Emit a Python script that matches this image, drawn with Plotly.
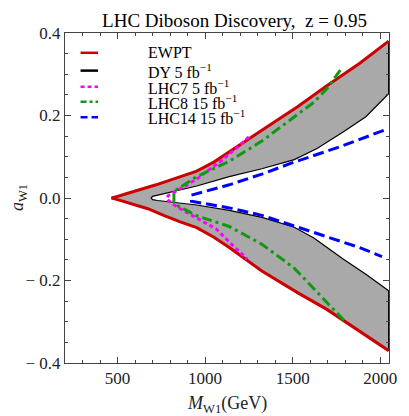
"""
LHC 다이보손 발견 영역 차트
EWPT / DY / LHC7 / LHC8 / LHC14 경계
"""

import plotly.graph_objects as go

# EWPT 경계 (빨강) - 위/아래 가지
ewpt_x = [466, 500, 540, 580, 630, 673, 720, 767, 858, 952, 1050, 1138, 1324, 1530, 1695, 1881, 2048]
ewpt_upper = [0.0, 0.004, 0.009, 0.014, 0.020, 0.026, 0.032, 0.038, 0.051, 0.065, 0.087, 0.111, 0.164, 0.222, 0.272, 0.326, 0.380]
ewpt_lower = [0.0, -0.004, -0.009, -0.014, -0.020, -0.026, -0.034, -0.043, -0.058, -0.072, -0.095, -0.120, -0.177, -0.230, -0.270, -0.322, -0.370]

# DY 5 fb^-1 안쪽 경계 (검정)
dy_upper_x = [692, 700, 729, 822, 952, 1138, 1324, 1509, 1639, 1788, 1918, 2048]
dy_upper = [0.0, 0.004, 0.008, 0.017, 0.029, 0.052, 0.071, 0.093, 0.120, 0.160, 0.197, 0.253]
dy_lower_x = [692, 700, 729, 822, 952, 1138, 1324, 1509, 1621, 1788, 1918, 2048]
dy_lower = [0.0, -0.004, -0.006, -0.011, -0.017, -0.030, -0.047, -0.071, -0.097, -0.148, -0.185, -0.225]

# LHC7 5 fb^-1 (마젠타 점선)
lhc7_upper_x = [780, 790, 841, 952, 1082, 1193, 1250]
lhc7_upper = [0.0, 0.006, 0.018, 0.046, 0.087, 0.126, 0.148]
lhc7_lower_x = [780, 790, 841, 952, 1063, 1156, 1240]
lhc7_lower = [0.0, -0.006, -0.022, -0.049, -0.075, -0.114, -0.148]

# LHC8 15 fb^-1 (초록 일점쇄선)
lhc8_upper_x = [822, 952, 1138, 1324, 1509, 1621, 1695, 1750, 1772]
lhc8_upper = [0.016, 0.052, 0.089, 0.138, 0.196, 0.232, 0.265, 0.297, 0.310]
lhc8_lower_x = [822, 952, 1138, 1324, 1509, 1621, 1695, 1805]
lhc8_lower = [-0.014, -0.043, -0.069, -0.112, -0.170, -0.220, -0.254, -0.302]

# LHC14 15 fb^-1 (파랑 파선)
lhc14_upper_x = [922, 952, 1138, 1324, 1509, 1769, 2020]
lhc14_upper = [0.007, 0.010, 0.032, 0.058, 0.087, 0.124, 0.164]
lhc14_lower_x = [922, 952, 1138, 1324, 1509, 1695, 1881, 2010]
lhc14_lower = [-0.008, -0.010, -0.024, -0.042, -0.068, -0.095, -0.120, -0.142]

legend_labels = ["EWPT", "DY 5 fb<sup>−1</sup>", "LHC7 5 fb<sup>−1</sup>",
                 "LHC8 15 fb<sup>−1</sup>", "LHC14 15 fb<sup>−1</sup>"]
x_tick_vals = [500, 1000, 1500, 2000]
y_tick_vals = [-0.4, -0.2, 0.0, 0.2, 0.4]
y_tick_text = ["− 0.4", "− 0.2", "0.0", "0.2", "0.4"]

SERIF = "Liberation Serif, Times New Roman, serif"


def branch_path(ux, uy, lx, ly):
    """위 가지를 거꾸로 + 아래 가지 이어서 한 경로로"""
    return ux[::-1] + lx, uy[::-1] + ly


def create_discovery_chart():
    fig = go.Figure()

    # 회색 영역: EWPT 바깥 경계와 DY 안쪽 경계 사이
    poly_x = ewpt_x + dy_upper_x[::-1] + dy_lower_x + ewpt_x[::-1]
    poly_y = ewpt_upper + dy_upper[::-1] + dy_lower + ewpt_lower[::-1]
    fig.add_trace(go.Scatter(
        x=poly_x, y=poly_y, mode="lines", fill="toself",
        fillcolor="#a9a9a9", line=dict(color="black", width=1.2),
        hoverinfo="skip"
    ))

    # EWPT 빨강 선
    red_x, red_y = branch_path(ewpt_x, ewpt_upper, ewpt_x, ewpt_lower)
    fig.add_trace(go.Scatter(x=red_x, y=red_y, mode="lines",
                             line=dict(color="#cc0000", width=3)))

    # LHC7 / LHC8 / LHC14
    styles = [
        (lhc7_upper_x, lhc7_upper, lhc7_lower_x, lhc7_lower, "#ff00ff", "4px,3px"),
        (lhc8_upper_x, lhc8_upper, lhc8_lower_x, lhc8_lower, "#119911", "10px,4px,3px,4px"),
        (lhc14_upper_x, lhc14_upper, lhc14_lower_x, lhc14_lower, "#0000ff", "11px,5px"),
    ]
    for ux, uy, lx, ly, color, dash in styles:
        px_, py_ = branch_path(ux, uy, lx, ly)
        fig.add_trace(go.Scatter(x=px_, y=py_, mode="lines",
                                 line=dict(color=color, width=3, dash=dash)))

    # 범례 (수동)
    legend_styles = [("#cc0000", "solid"), ("black", "solid"), ("#ff00ff", "4px,3px"),
                     ("#119911", "6px,3px,3px,3px"), ("#0000ff", "7px,4px")]
    legend_rows = [0.940, 0.886, 0.837, 0.792, 0.745]
    for (color, dash), yrow, label in zip(legend_styles, legend_rows, legend_labels):
        fig.add_shape(type="line", xref="paper", yref="paper",
                      x0=0.048, x1=0.102, y0=yrow, y1=yrow,
                      line=dict(color=color, width=2.5, dash=dash))
        fig.add_annotation(xref="paper", yref="paper", x=0.25, y=yrow,
                           text=label, showarrow=False, xanchor="left", yanchor="middle",
                           font=dict(family=SERIF, size=16, color="black"))

    axis_common = dict(
        showline=True, linecolor="#444444", linewidth=1, mirror="ticks",
        ticks="inside", ticklen=6, tickcolor="#444444",
        showgrid=False, zeroline=False,
        tickfont=dict(family=SERIF, size=17, color="#222222"),
    )
    fig.update_xaxes(range=[200, 2050], tickvals=x_tick_vals,
                     minor=dict(dtick=100, tick0=0, ticks="inside", ticklen=3, tickcolor="#444444"),
                     **axis_common)
    fig.update_yaxes(range=[-0.4, 0.4], tickvals=y_tick_vals, ticktext=y_tick_text,
                     minor=dict(dtick=0.05, tick0=0, ticks="inside", ticklen=3, tickcolor="#444444"),
                     **axis_common)

    # 축 제목
    fig.add_annotation(xref="paper", yref="paper", x=0.5, y=-0.125,
                       text="<i>M</i><sub>W1</sub>(GeV)", showarrow=False,
                       xanchor="center", yanchor="middle",
                       font=dict(family=SERIF, size=18, color="#222222"))
    fig.add_annotation(xref="paper", yref="paper", x=-0.145, y=0.5,
                       text="<i>a</i><sub>W1</sub>", showarrow=False, textangle=-90,
                       xanchor="center", yanchor="middle",
                       font=dict(family=SERIF, size=18, color="#222222"))

    # 페이지 body 여백(8px)만큼 보정한 크기
    fig.update_layout(
        title=dict(text="LHC Diboson Discovery,  z = 0.95", x=0.565, xanchor="center",
                   y=0.985, yanchor="top",
                   font=dict(family=SERIF, size=19, color="black")),
        width=401, height=408,
        margin=dict(l=57, r=12, t=25, b=53),
        showlegend=False,
        plot_bgcolor="white", paper_bgcolor="white",
    )
    return fig


fig = create_discovery_chart()
fig.write_html("out.html")
